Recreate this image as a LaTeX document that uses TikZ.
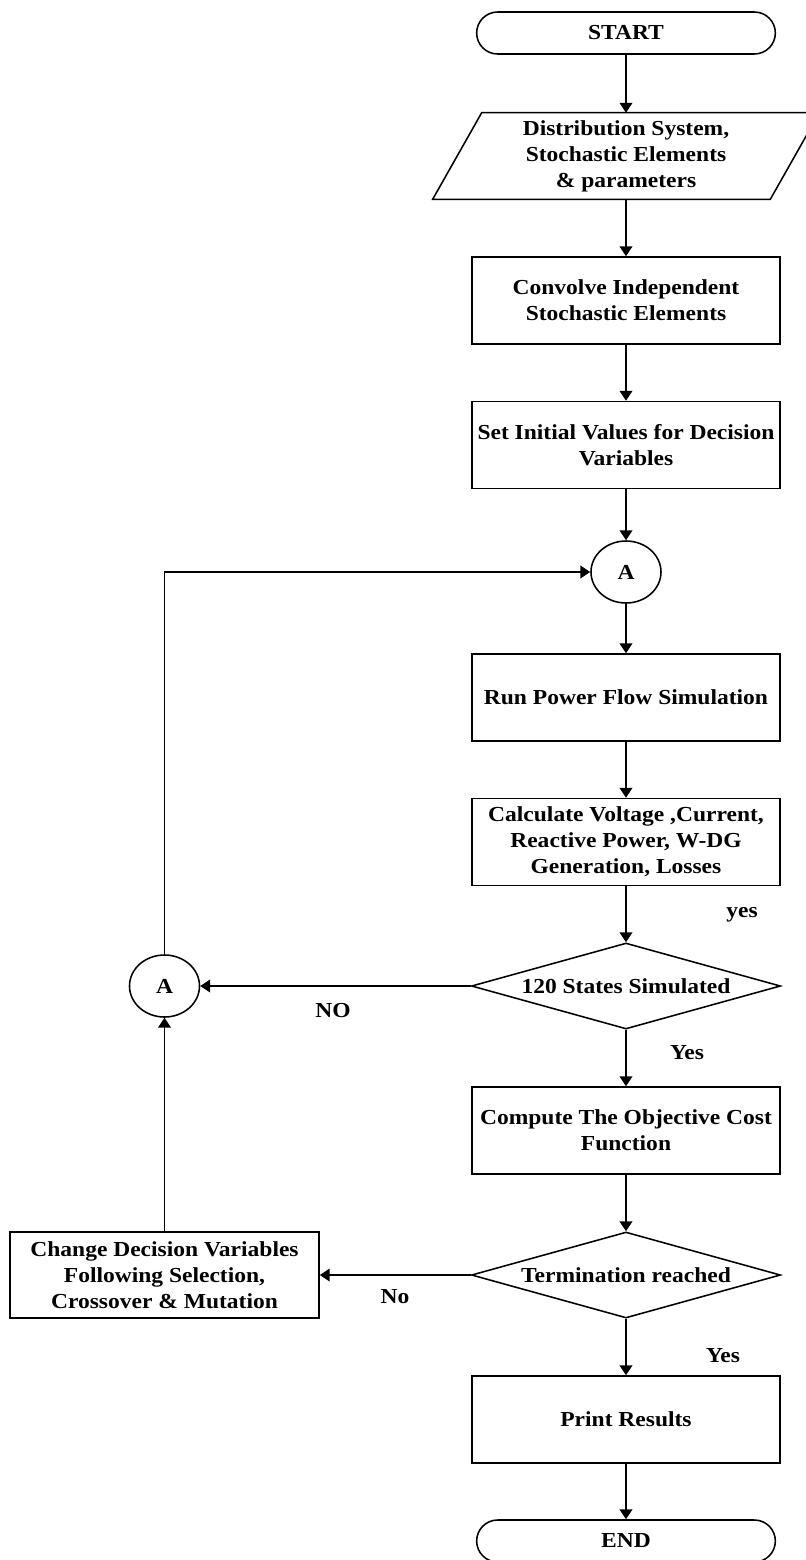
\documentclass[tikz,border=0pt]{standalone}
\usepackage{fontspec}
\setmainfont{Liberation Serif}[FakeStretch=1.1]
\usetikzlibrary{arrows.meta, positioning, shapes.geometric, shapes.misc}

\tikzset{
  procbox/.style={draw, line width=1.1pt, minimum width=7.7cm, minimum height=2.175cm, align=center, inner xsep=0pt},
  termbox/.style={draw, rounded rectangle, line width=1.1pt, minimum width=7.7cm, minimum height=1.05cm},
  decbox/.style={draw, diamond, aspect=3.6, line width=1.1pt, minimum width=7.725cm, minimum height=2.15cm, inner sep=0pt},
  joinpt/.style={draw, ellipse, line width=1.1pt, minimum width=1.75cm, minimum height=1.55cm, inner sep=0pt},
  lbl/.style={inner sep=0pt},
  flow/.style={->, line width=1.1pt},
}

\begin{document}
\begin{tikzpicture}[x=0.025cm, y=-0.025cm, >={Triangle[length=7pt,width=9pt]}, font=\fontsize{15.2}{18.4}\selectfont\bfseries]
    \useasboundingbox (0,0) rectangle (806,1560);

    % Main column
    \node[termbox] (start) at (626,33) {START};
    \node[minimum width=8.425cm, minimum height=2.15cm, align=center, inner sep=0pt] (inp) at (626,156)
        {Distribution System,\\Stochastic Elements\\\& parameters};
    \draw[line width=1.1pt] ([xshift=-0.6125cm]inp.south west) -- ([xshift=0.6125cm]inp.north west)
        -- ([xshift=0.6125cm]inp.north east) -- ([xshift=-0.6125cm]inp.south east) -- cycle;
    \node[procbox] (conv) at (626,300.5) {Convolve Independent\\Stochastic Elements};
    \node[procbox] (init) at (626,445) {Set Initial Values for Decision\\Variables};
    \node[joinpt] (conA) at (626,572) {A};
    \node[procbox] (run) at (626,697.5) {Run Power Flow Simulation};
    \node[procbox] (calc) at (626,842) {Calculate Voltage ,Current,\\Reactive Power, W-DG\\Generation, Losses};
    \node[decbox] (states) at (626,986) {120 States Simulated};
    \node[procbox] (cost) at (626,1130.5) {Compute The Objective Cost\\Function};
    \node[decbox] (term) at (626,1275) {Termination reached};
    \node[procbox] (print) at (626,1419.5) {Print Results};
    \node[termbox] (stop) at (626,1541) {END};

    % Loop back
    \node[joinpt] (conA2) at (164.5,986) {A};
    \node[procbox, minimum width=7.725cm, minimum height=2.15cm] (change) at (164.5,1275)
        {Change Decision Variables\\Following Selection,\\Crossover \& Mutation};

    % Labels
    \node[lbl] (yes1) at (742,915) {yes};
    \node[lbl] (no1) at (333,1011) {NO};
    \node[lbl] (yes2) at (687,1053) {Yes};
    \node[lbl] (no2) at (395,1297) {No};
    \node[lbl] (yes3) at (723,1356) {Yes};

    \draw[flow] (start) -- (inp);
    \draw[flow] (inp) -- (conv);
    \draw[flow] (conv) -- (init);
    \draw[flow] (init) -- (conA);
    \draw[flow] (conA) -- (run);
    \draw[flow] (run) -- (calc);
    \draw[flow] (calc) -- (states);
    \draw[flow] (states) -- (cost);
    \draw[flow] (cost) -- (term);
    \draw[flow] (term) -- (print);
    \draw[flow] (print) -- (stop);
    \draw[flow] (states.west) -- (conA2.east);
    \draw[flow] (term.west) -- (change.east);
    \draw[flow] (change.north) -- (conA2.south);
    \draw[flow] (conA2.north) |- (conA.west);
\end{tikzpicture}
\end{document}
